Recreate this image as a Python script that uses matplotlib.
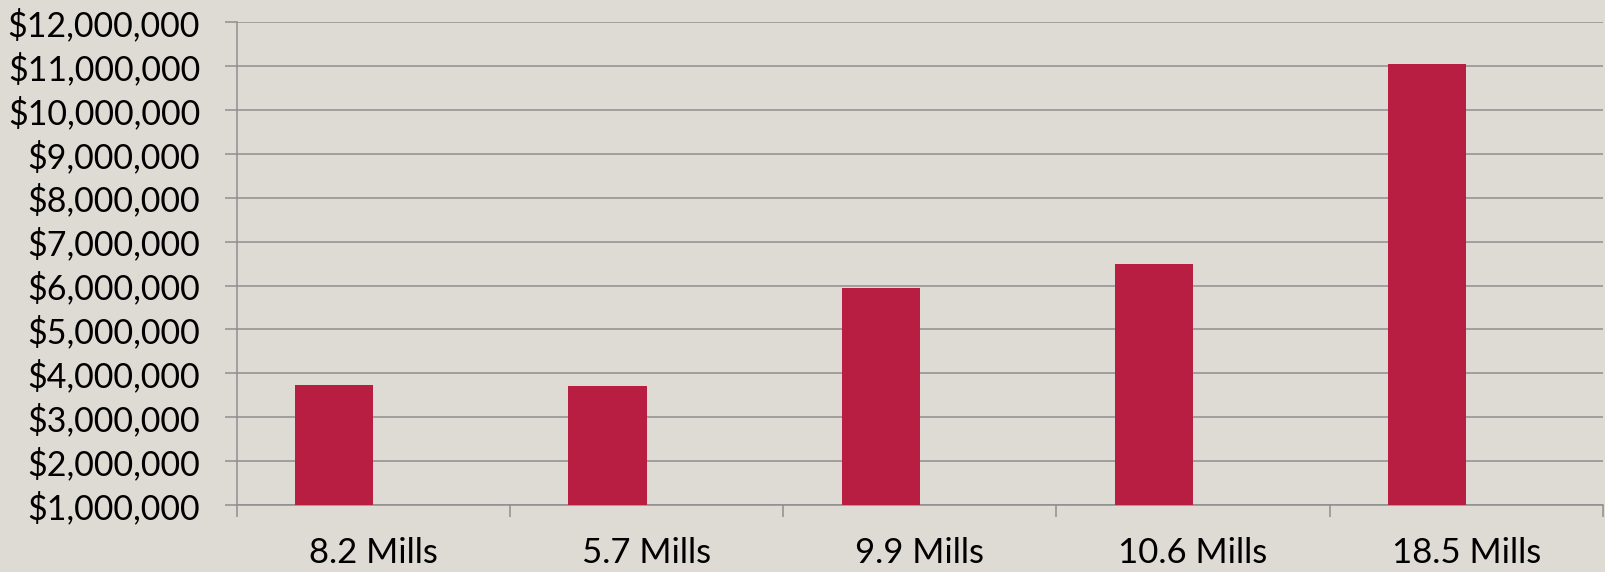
import numpy as np
import matplotlib
matplotlib.use('Agg')
import matplotlib.pyplot as plt
from matplotlib.ticker import FuncFormatter, FixedLocator

# Revenue by millage rate
categories = ['8.2 Mills', '5.7 Mills', '9.9 Mills', '10.6 Mills', '18.5 Mills']
revenue = [3730000, 3720000, 5950000, 6500000, 11040000]

bg = '#dedbd4'
bar_color = '#b81e42'
line_color = '#8f8f8f'

plt.rcParams['font.family'] = ['Lato', 'DejaVu Sans']

fig = plt.figure(figsize=(16.06, 5.72), dpi=100, facecolor=bg)
ax = fig.add_axes([0.1474, 0.1171, 0.8506, 0.8439], facecolor=bg)

x = np.arange(len(categories))
# clustered layout with gap width 150%, bars sit left of each category centre
bar_w = 1 / 3.5
ax.bar(x - bar_w / 2, revenue, width=bar_w, color=bar_color, zorder=3)

ax.set_xlim(-0.5, len(categories) - 0.5)
ax.set_ylim(1000000, 12000000)
ax.set_yticks(np.arange(1000000, 12000001, 1000000))
ax.yaxis.set_major_formatter(FuncFormatter(lambda v, p: '${:,.0f}'.format(v)))

ax.set_xticks(x)
ax.set_xticklabels(categories)
ax.xaxis.set_minor_locator(FixedLocator(np.arange(-0.5, len(categories), 1.0)))

ax.grid(axis='y', color=line_color, linewidth=1.1, zorder=0)
for side in ['top', 'right']:
    ax.spines[side].set_visible(False)
for side in ['left', 'bottom']:
    ax.spines[side].set_color(line_color)
    ax.spines[side].set_linewidth(1.1)

ax.tick_params(axis='y', length=8.4, width=1.1, color=line_color, pad=18,
               labelsize=24.5, labelcolor='black')
ax.tick_params(axis='x', which='major', length=0, pad=23, labelsize=25,
               labelcolor='black')
ax.tick_params(axis='x', which='minor', length=8.4, width=1.1, color=line_color)

fig.savefig('out.png', dpi=100, facecolor=bg)
